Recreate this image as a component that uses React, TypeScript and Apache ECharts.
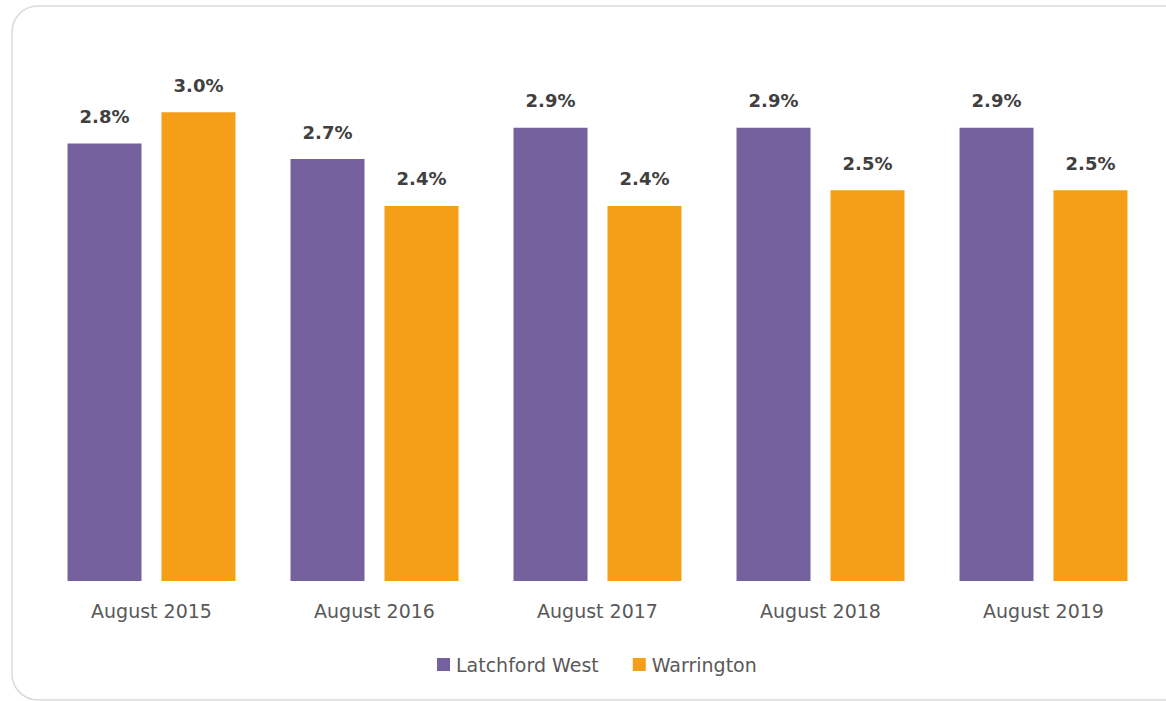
import React, { useEffect, useRef } from "react";
import * as echarts from "echarts";

const categories = ["August 2015", "August 2016", "August 2017", "August 2018", "August 2019"];
const latchfordWest = [2.8, 2.7, 2.9, 2.9, 2.9];
const warrington = [3.0, 2.4, 2.4, 2.5, 2.5];
const seriesNames = ["Latchford West", "Warrington"];

const PURPLE = "#76619F";
const ORANGE = "#F49F17";
const FONT = "DejaVu Sans";

export default function App() {
  const ref = useRef<HTMLDivElement>(null);
  useEffect(() => {
    if (!ref.current) return;
    const chart = echarts.init(ref.current, undefined, { renderer: "svg" });
    const label = {
      show: true,
      position: "top",
      distance: 18,
      formatter: (p: any) => p.value.toFixed(1) + "%",
      fontFamily: FONT,
      fontSize: 18,
      fontWeight: "bold",
      color: "#404040",
    };
    chart.setOption({
      animation: false,
      backgroundColor: "#ffffff",
      graphic: [
        {
          type: "rect",
          shape: { x: 12, y: 6, width: 1190, height: 694, r: 26 },
          style: { fill: "none", stroke: "#dadada", lineWidth: 1.5 },
          silent: true,
          z: -1,
        },
      ],
      grid: { left: 40, right: 11, top: 34, bottom: 120 },
      legend: {
        data: seriesNames,
        left: 432,
        top: 650,
        icon: "rect",
        itemWidth: 13,
        itemHeight: 13,
        itemGap: 34,
        textStyle: { fontFamily: FONT, fontSize: 19, color: "#595959", padding: [0, 0, 0, 1] },
      },
      xAxis: {
        type: "category",
        data: categories,
        axisLine: { show: false },
        axisTick: { show: false },
        axisLabel: { margin: 20, fontFamily: FONT, fontSize: 19, color: "#595959" },
      },
      yAxis: {
        type: "value",
        min: 0,
        max: 3.5,
        show: false,
        splitLine: { show: false },
      },
      series: [
        {
          name: seriesNames[0],
          type: "bar",
          data: latchfordWest,
          barWidth: 74,
          barGap: "27%",
          itemStyle: { color: PURPLE },
          label,
        },
        {
          name: seriesNames[1],
          type: "bar",
          data: warrington,
          barWidth: 74,
          barGap: "27%",
          itemStyle: { color: ORANGE },
          label,
        },
      ],
    });
    return () => chart.dispose();
  }, []);
  return (
    <div
      ref={ref}
      style={{ position: "absolute", left: 0, top: 0, width: 1166, height: 701, background: "#fff" }}
    />
  );
}
